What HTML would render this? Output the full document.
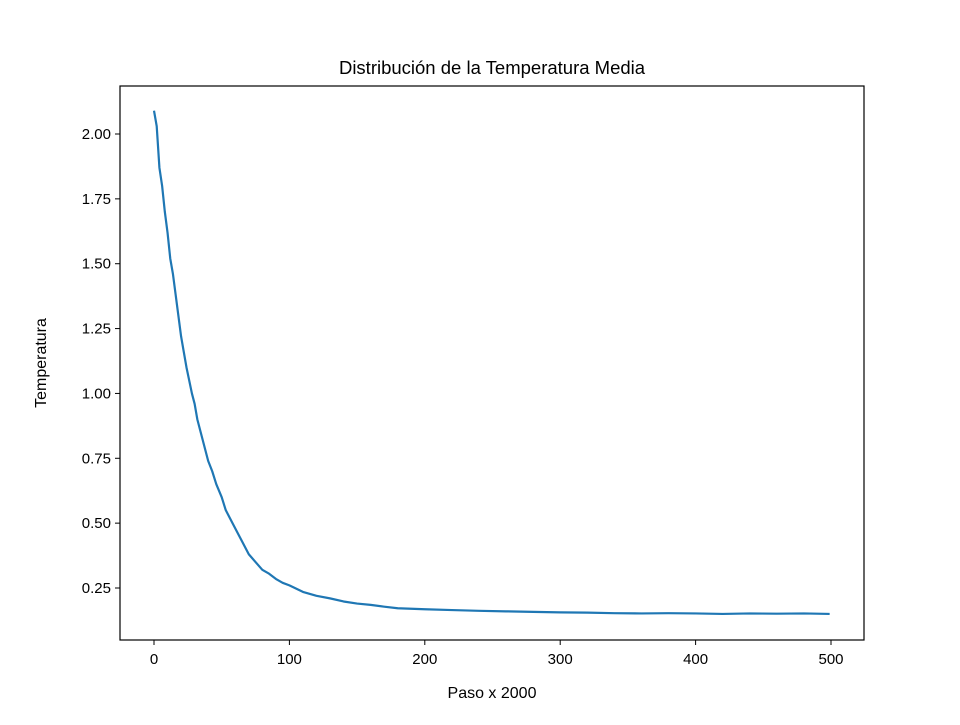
<!DOCTYPE html>
<html><head><meta charset="utf-8"><style>
body{margin:0;background:#fff;}
svg text{font-family:"Liberation Sans","DejaVu Sans",sans-serif;fill:#000;}
</style></head><body>
<svg id="chart" width="960" height="720" xmlns="http://www.w3.org/2000/svg">
<rect width="960" height="720" fill="#fff"/>
<text x="492" y="74" font-size="18.5" text-anchor="middle">Distribución de la Temperatura Media</text>
<g id="plot"></g>
<rect x="120" y="86" width="744" height="554" fill="none" stroke="#000" stroke-width="1.2"/>
<text x="492" y="698" font-size="16" text-anchor="middle">Paso x 2000</text>
<text transform="translate(46,363) rotate(-90)" font-size="16" text-anchor="middle">Temperatura</text>
</svg>
<script>
const xTicks=[0,100,200,300,400,500];
const yTicks=[0.25,0.5,0.75,1.0,1.25,1.5,1.75,2.0];
const steps=[0,2,4,6,8,10,12,14,16,18,20,22,24,26,28,30,32,34,36,38,40,43,46,50,53,56,60,63,66,70,75,80,85,90,95,100,110,120,130,140,150,160,170,180,190,200,220,240,260,280,300,320,340,360,380,400,420,440,460,480,499];
const temps=[2.09,2.03,1.87,1.80,1.70,1.62,1.52,1.46,1.38,1.30,1.22,1.16,1.10,1.05,1.00,0.96,0.90,0.86,0.82,0.78,0.74,0.70,0.65,0.60,0.55,0.52,0.48,0.45,0.42,0.38,0.35,0.32,0.305,0.285,0.27,0.26,0.235,0.22,0.21,0.198,0.19,0.185,0.178,0.172,0.17,0.168,0.165,0.162,0.16,0.158,0.156,0.155,0.153,0.152,0.153,0.152,0.15,0.152,0.151,0.152,0.15];
const xs=v=>154+v*(831-154)/500;
const ys=v=>134+(2.0-v)*(588-134)/1.75;
const g=document.getElementById('plot');
const NS='http://www.w3.org/2000/svg';
function mk(t,a){const e=document.createElementNS(NS,t);for(const k in a)e.setAttribute(k,a[k]);g.appendChild(e);return e;}
xTicks.forEach(v=>{
 const l=mk('line',{x1:xs(v),x2:xs(v),y1:640,y2:645,stroke:'#000','stroke-width':1});
 
 
 const t=mk('text',{x:xs(v),y:664,'font-size':15,'text-anchor':'middle'});t.textContent=v;
 
 
});
yTicks.forEach(v=>{
 const l=mk('line',{x1:115,x2:120,y1:ys(v),y2:ys(v),stroke:'#000','stroke-width':1});
 
 
 const t=mk('text',{x:111,y:ys(v)+5,'font-size':15,'text-anchor':'end'});t.textContent=v.toFixed(2);
 
 
});
const p=mk('polyline',{points:steps.map((s,i)=>xs(s)+','+ys(temps[i])).join(' '),fill:'none',stroke:'#1f77b4','stroke-width':2.2,'stroke-linejoin':'round'});


</script>
</body></html>
